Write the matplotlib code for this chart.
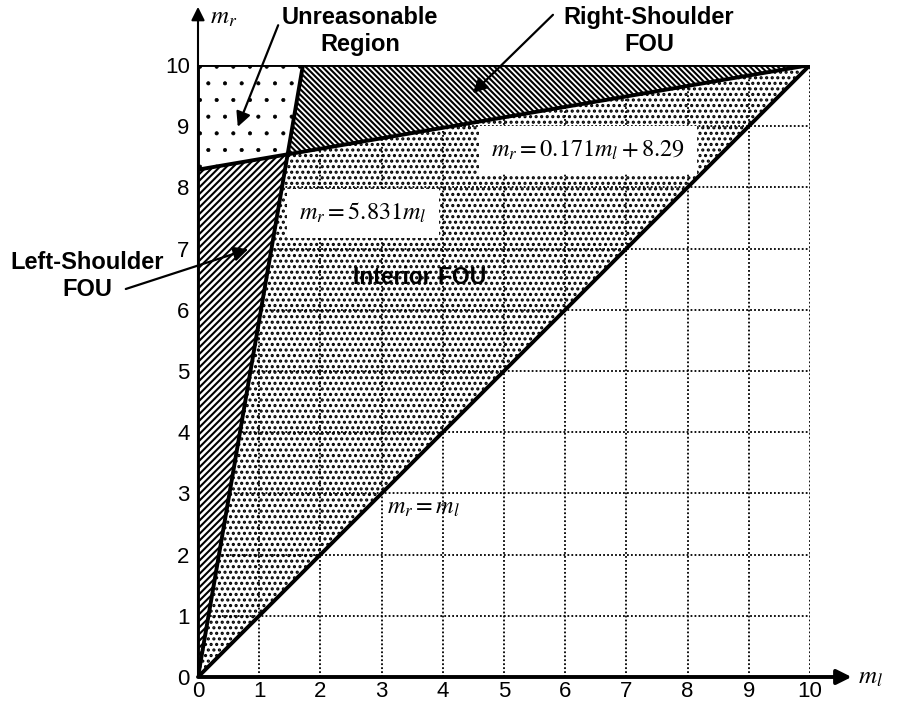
import numpy as np
import matplotlib
matplotlib.use("Agg")
import matplotlib.pyplot as plt

# ---- data ----
ticks = [0, 1, 2, 3, 4, 5, 6, 7, 8, 9, 10]
m_max = 10.0
slope_left = 5.831          # m_r = 5.831 m_l
slope_rs = 0.171            # m_r = 0.171 m_l + 8.29
intercept_rs = 8.29

# derived vertices
x_int = intercept_rs / (slope_left - slope_rs)
y_int = slope_left * x_int
x_top = m_max / slope_left

plt.rcParams['font.family'] = ['Liberation Sans', 'DejaVu Sans']
plt.rcParams['mathtext.fontset'] = 'stix'

fig = plt.figure(figsize=(9.06, 7.01), dpi=100)
ax = fig.add_axes([198/906, 24/701, 612/906, 612/701])
ax.set_xlim(0, m_max)
ax.set_ylim(0, m_max)
for s in ax.spines.values():
    s.set_visible(False)

# grid
for t in ticks[1:]:
    ax.plot([t, t], [0, m_max], color='black', lw=1.3, ls=(0, (1, 1.2)), zorder=1)
    ax.plot([0, m_max], [t, t], color='black', lw=1.3, ls=(0, (1, 1.2)), zorder=1)

def fill(xs, ys, hatch, face, hlw, z=2):
    kw = dict(facecolor=face, edgecolor='black', hatch=hatch, lw=0, zorder=z)
    try:
        ax.fill(xs, ys, hatch_linewidth=hlw, **kw)
    except Exception:
        with plt.rc_context({'hatch.linewidth': hlw}):
            ax.fill(xs, ys, **kw)

# interior FOU
fill([0, m_max, x_int], [0, m_max, y_int], '...', 'none', 1.5)
# left shoulder
fill([0, x_int, 0], [0, y_int, intercept_rs], '/' * 5, 'white', 1.5)
# unreasonable region
fill([0, x_int, x_top, 0], [intercept_rs, y_int, m_max, m_max], '.', 'white', 0.5)
# right shoulder
fill([x_int, x_top, m_max], [y_int, m_max, m_max], '\\' * 6, 'white', 1.5)

# boundary lines
lw = 2.8
ax.plot([0, m_max], [0, m_max], color='black', lw=lw, zorder=5)
ax.plot([0, x_top], [0, m_max], color='black', lw=lw, zorder=5)
ax.plot([0, m_max], [intercept_rs, intercept_rs + slope_rs * m_max], color='black', lw=lw, zorder=5)
ax.plot([0, m_max], [m_max, m_max], color='black', lw=lw, zorder=5)

# axes with arrows
ax.annotate('', xy=(10.68, 0), xytext=(0, 0), annotation_clip=False,
            arrowprops=dict(arrowstyle='-|>', lw=2.8, color='black', mutation_scale=22,
                            shrinkA=0, shrinkB=0), zorder=6)
ax.annotate('', xy=(0, 10.95), xytext=(0, 0), annotation_clip=False,
            arrowprops=dict(arrowstyle='-|>', lw=1.5, color='black', mutation_scale=20,
                            shrinkA=0, shrinkB=0), zorder=6)
ax.plot([0, 0], [0, m_max], color='black', lw=2.8, zorder=6)
ax.text(10.78, 0.0, r'$m_l$', fontsize=18, ha='left', va='center', clip_on=False)
ax.text(0.2, 10.78, r'$m_r$', fontsize=18, ha='left', va='center', clip_on=False)

# ticks
ax.set_xticks(ticks)
ax.set_yticks(ticks)
ax.tick_params(axis='x', length=0, labelsize=16, pad=3)
ax.tick_params(axis='y', length=0, labelsize=16, pad=6)
ax.set_xticklabels([str(t) for t in ticks])
ax.set_yticklabels([str(t) for t in ticks])

# region labels
bold = dict(fontsize=17, fontweight='bold', ha='center', va='center',
            linespacing=1.2, clip_on=False)
ax.text(2.65, 10.56, 'Unreasonable\nRegion', **bold)
ax.text(7.37, 10.56, 'Right-Shoulder\nFOU', **bold)
ax.text(-1.81, 6.55, 'Left-Shoulder\nFOU', **bold)
ax.text(2.53, 6.52, 'Interior FOU', fontsize=16.5, fontweight='bold', ha='left',
        va='center', zorder=7)

# equation labels
ax.text(6.37, 8.61, r'$m_r = 0.171m_l + 8.29$', fontsize=17.5, ha='center',
        va='center', bbox=dict(facecolor='white', edgecolor='none', pad=9), zorder=7)
ax.text(2.70, 7.58, r'$m_r = 5.831m_l$', fontsize=17.5, ha='center',
        va='center', bbox=dict(facecolor='white', edgecolor='none', pad=9), zorder=7)
ax.text(3.68, 2.76, r'$m_r = m_l$', fontsize=17.5, ha='center', va='center', zorder=7)

# pointer arrows
ap = dict(arrowstyle='-|>', lw=1.6, color='black', mutation_scale=22, shrinkA=0, shrinkB=0)
ax.annotate('', xy=(0.65, 8.99), xytext=(1.31, 10.65), arrowprops=ap,
            annotation_clip=False, zorder=8)
ax.annotate('', xy=(4.49, 9.54), xytext=(5.80, 10.82), arrowprops=ap,
            annotation_clip=False, zorder=8)
ax.annotate('', xy=(0.82, 6.99), xytext=(-1.18, 6.34), arrowprops=ap,
            annotation_clip=False, zorder=8)

fig.savefig('out.png', dpi=100)
